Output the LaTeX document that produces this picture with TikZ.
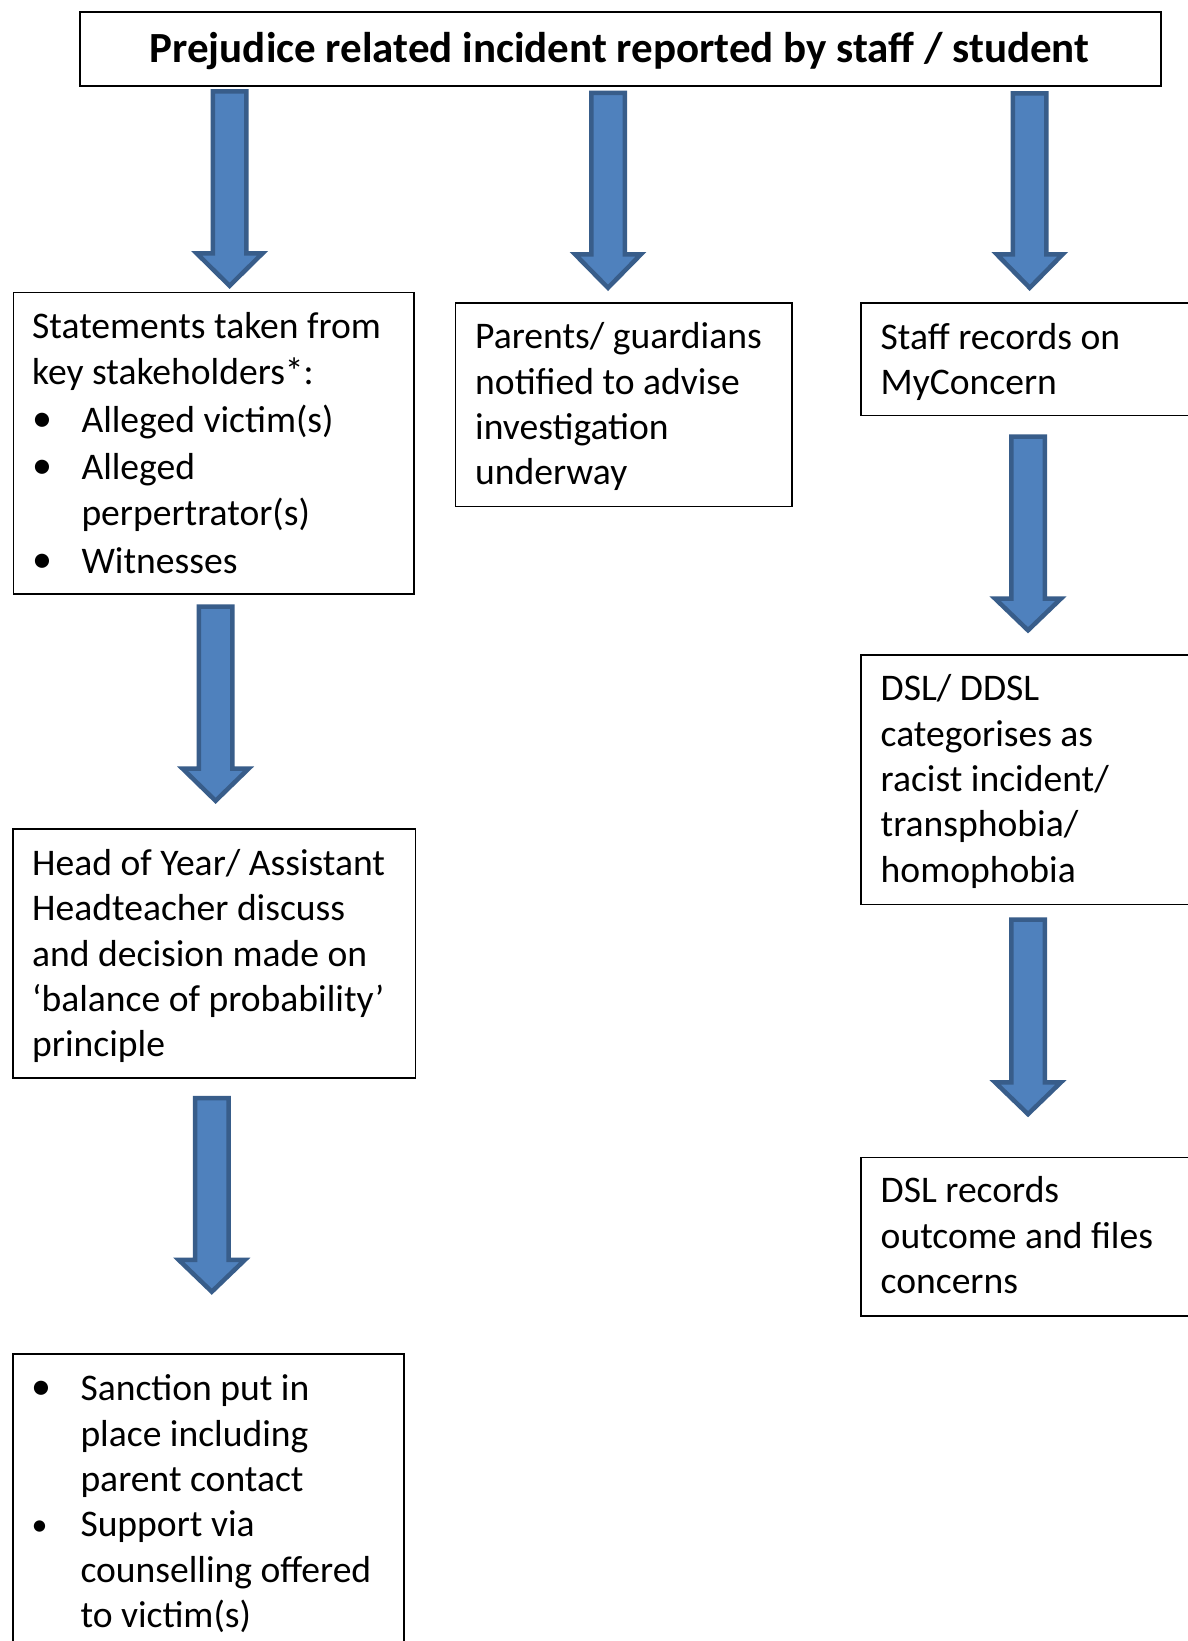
\documentclass[tikz,border=0pt]{standalone}
\usepackage{fontspec}
\setmainfont{Carlito}
\newcommand\bodyfont{\fontsize{37.6}{45.4}\selectfont}
\newcommand\titlefont{\fontsize{43}{50}\selectfont\bfseries}
\newcommand\bul{\makebox[49.3pt][l]{\hspace{0pt}\raisebox{1pt}{\fontsize{40}{45}\selectfont •}}}
\newcommand\bulsmall{\makebox[49.3pt][l]{\hspace{0.5pt}\raisebox{1.5pt}{\fontsize{32}{45}\selectfont •}}}
\newcommand\ind{\hspace*{49.3pt}}
\newcommand\fr{\rule{0pt}{40pt}}
\definecolor{arrfill}{HTML}{4F81BD}
\definecolor{arrline}{HTML}{385D8A}
\newcommand\blockarrow[4]{%
  \draw[blockarr] (#1-16.75,#2+2.25) -- (#1+16.75,#2+2.25) -- (#1+16.75,#3+2.25)
    -- (#1+33,#3+2.25) -- (#1,#4-3.2) -- (#1-33,#3+2.25) -- (#1-16.75,#3+2.25) -- cycle;}
\begin{document}
\begin{tikzpicture}[x=1pt,y=-1pt,
  box/.style={draw=black, line width=1.6pt, fill=none, inner sep=0pt, anchor=north west},
  txt/.style={anchor=north west, inner sep=0pt, align=left, font=\bodyfont},
  blockarr/.style={fill=arrfill, draw=arrline, line width=4.5pt, line join=miter}]
\clip (0,0) rectangle (1188,1641);
\fill[white] (0,0) rectangle (1188,1641);
% boxes
\node[box, minimum width=1081pt, minimum height=74pt] (top) at (79,11) {};
\node[font=\titlefont, anchor=base, inner sep=0pt] (title) at (619.5,62) {Prejudice related incident reported by staff / student};
\node[box, minimum width=400.7pt, minimum height=301.4pt] (b1) at (12.6,291.8) {};
\node[box, minimum width=336.4pt, minimum height=203.6pt] (b2) at (454.6,302) {};
\node[box, minimum width=360pt, minimum height=112.3pt] (b3) at (860.3,302.4) {};
\node[box, minimum width=360pt, minimum height=249.8pt] (b4) at (860.3,653.9) {};
\node[box, minimum width=360pt, minimum height=158.3pt] (b5) at (860,1156.7) {};
\node[box, minimum width=402.6pt, minimum height=249.1pt] (b6) at (11.9,827.9) {};
\node[box, minimum width=391.1pt, minimum height=360pt] (b7) at (11.9,1353) {};
% texts
\node[txt] (t1) at (32,298.5) {\fr Statements taken from\\ key stakeholders*:\\[2.5pt]
  \bul Alleged victim(s)\\[2.5pt] \bul Alleged\\ \ind perpertrator(s)\\[2.5pt] \bul Witnesses};
\node[txt] (t2) at (475,308.5) {\fr Parents/ guardians\\ notified to advise\\ investigation\\ underway};
\node[txt] (t3) at (880.5,309) {\fr Staff records on\\ MyConcern};
\node[txt] (t4) at (880.5,660.4) {\fr DSL/ DDSL\\ categorises as\\ racist incident/\\ transphobia/\\ homophobia};
\node[txt] (t5) at (880.5,1162.7) {\fr DSL records\\ outcome and files\\ concerns};
\node[txt] (t6) at (32,835) {\fr Head of Year/ Assistant\\ Headteacher discuss\\ and decision made on\\ ‘balance of probability’\\ principle};
\node[txt] (t7) at (31,1360.5) {\fr\bul Sanction put in\\ \ind place including\\ \ind parent contact\\
  \bulsmall Support via\\ \ind counselling offered\\ \ind to victim(s)};
% arrows
\blockarrow{229.6}{89}{251}{289}
\blockarrow{608}{90.7}{252}{291}
\blockarrow{1029.7}{91}{252}{291}
\blockarrow{1028}{434.3}{596.3}{633.5}
\blockarrow{1028}{917.3}{1080}{1117.3}
\blockarrow{215.6}{604.3}{766.4}{804}
\blockarrow{211.8}{1095.9}{1257.7}{1294.9}
\end{tikzpicture}
\end{document}
